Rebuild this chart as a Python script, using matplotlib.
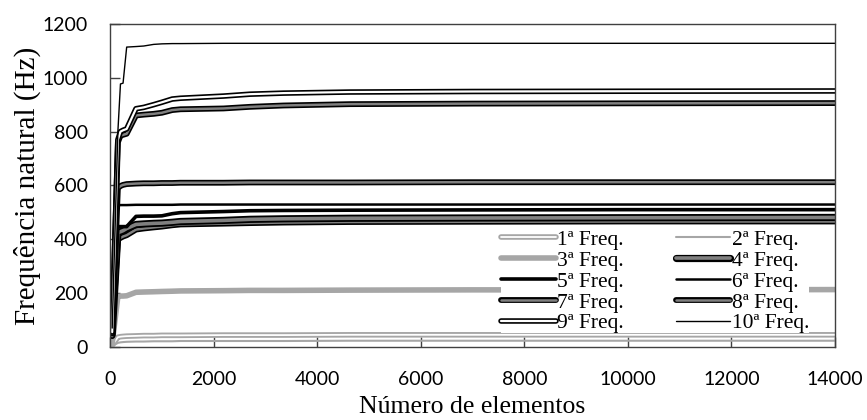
import matplotlib
matplotlib.use("Agg")
import matplotlib.pyplot as plt
import matplotlib.patheffects as pe

# numero de elementos da malha
n_elem = [40, 150, 200, 250, 320, 500, 650, 840, 1000, 1200, 1360, 2190, 2700, 3350, 4630, 7000, 10000, 14000]

# frequencias naturais (Hz)
f1 = [6, 36, 38, 39, 40, 41, 42, 42, 43, 43, 43, 44, 44, 44, 45, 45, 45, 45]
f2 = [3, 15, 17, 18, 19, 20, 20, 21, 21, 21, 22, 22, 22, 22, 23, 23, 23, 23]
f3 = [12, 188, 189, 189, 190, 203, 204, 205, 206, 207, 208, 209, 210, 210, 211, 212, 212, 213]
f4 = [45, 425, 428, 432, 440, 455, 457, 459, 460, 463, 466, 470, 474, 476, 478, 479, 480, 481]
f5 = [50, 447, 447, 447, 447, 485, 486, 486, 487, 495, 499, 503, 506, 507, 508, 509, 510, 510]
f6 = [48, 526, 527, 527, 527, 528, 528, 528, 528, 528, 529, 529, 529, 529, 529, 529, 529, 529]
f7 = [40, 590, 598, 602, 605, 607, 608, 608, 609, 609, 610, 610, 611, 611, 611, 612, 612, 612]
f8 = [50, 760, 785, 788, 792, 860, 863, 866, 870, 880, 883, 886, 892, 897, 902, 904, 905, 906]
f9 = [55, 770, 800, 805, 810, 885, 890, 900, 909, 921, 924, 932, 939, 943, 947, 949, 950, 951]
f10 = [70, 800, 977, 980, 1114, 1116, 1118, 1124, 1126, 1127, 1127, 1128, 1128, 1128, 1128, 1128, 1128, 1128]
f_extra = [42, 399, 405, 410, 415, 436, 440, 444, 447, 452, 455, 458, 460, 462, 464, 465, 466, 466]

labels = ["1ª Freq.", "2ª Freq.", "3ª Freq.", "4ª Freq.", "5ª Freq.",
          "6ª Freq.", "7ª Freq.", "8ª Freq.", "9ª Freq.", "10ª Freq."]

serif = "Liberation Serif"
sans = "Lato"


def double(outer_w, outer_c="black"):
    return [pe.Stroke(linewidth=outer_w, foreground=outer_c), pe.Normal()]


fig = plt.figure(figsize=(8.67, 4.2), dpi=100)
ax = fig.add_axes([0.127, 0.174, 0.836, 0.769])

# (dados, cor, largura, efeito)
styles = [
    (f1, "white", 1.3, double(4.0, "#a6a6a6")),
    (f2, "#a6a6a6", 1.5, None),
    (f3, "#a6a6a6", 4.0, None),
    (f4, "#808080", 2.6, double(5.2)),
    (f5, "black", 2.6, None),
    (f6, "black", 1.8, None),
    (f7, "#808080", 1.8, double(4.2)),
    (f8, "#808080", 1.8, double(4.2)),
    (f9, "white", 1.6, double(4.0)),
    (f10, "black", 1.0, None),
]

ax.plot(n_elem, f_extra, color="#808080", lw=1.8, path_effects=double(4.2),
        label="_nolegend_")
handles = []
for (vals, col, lw, eff), lab in zip(styles, labels):
    h, = ax.plot(n_elem, vals, color=col, lw=lw, path_effects=eff, label=lab,
                 solid_capstyle="round")
    handles.append(h)

ax.set_xlim(0, 14000)
ax.set_ylim(0, 1200)
ax.set_xticks(range(0, 14001, 2000))
ax.set_yticks(range(0, 1201, 200))
ax.tick_params(direction="in", length=7, width=1, color="#404040")
ax.tick_params(axis="y", pad=16)
ax.tick_params(axis="x", pad=17)
for lbl in ax.get_xticklabels() + ax.get_yticklabels():
    lbl.set_fontfamily(sans)
    lbl.set_fontsize(14)
for sp in ax.spines.values():
    sp.set_color("#404040")
    sp.set_linewidth(1)

ax.set_xlabel("Número de elementos", fontfamily=serif, fontsize=18.5, labelpad=6)
ax.set_ylabel("Frequência natural (Hz)", fontfamily=serif, fontsize=21, labelpad=1)

# legenda preenchida por linhas (1,2 / 3,4 / ...)
order = [0, 2, 4, 6, 8, 1, 3, 5, 7, 9]
leg = ax.legend([handles[i] for i in order], [labels[i] for i in order],
                ncol=2, loc="lower right", bbox_to_anchor=(0.933, 0.206),
                bbox_transform=fig.transFigure, prop={"family": serif, "size": 15.5},
                frameon=True, framealpha=1, edgecolor="none", fancybox=False,
                handlelength=2.55, handletextpad=0.05, columnspacing=2.4,
                labelspacing=0.04, borderpad=0.0, borderaxespad=0)

fig.savefig("out.png", dpi=100)
